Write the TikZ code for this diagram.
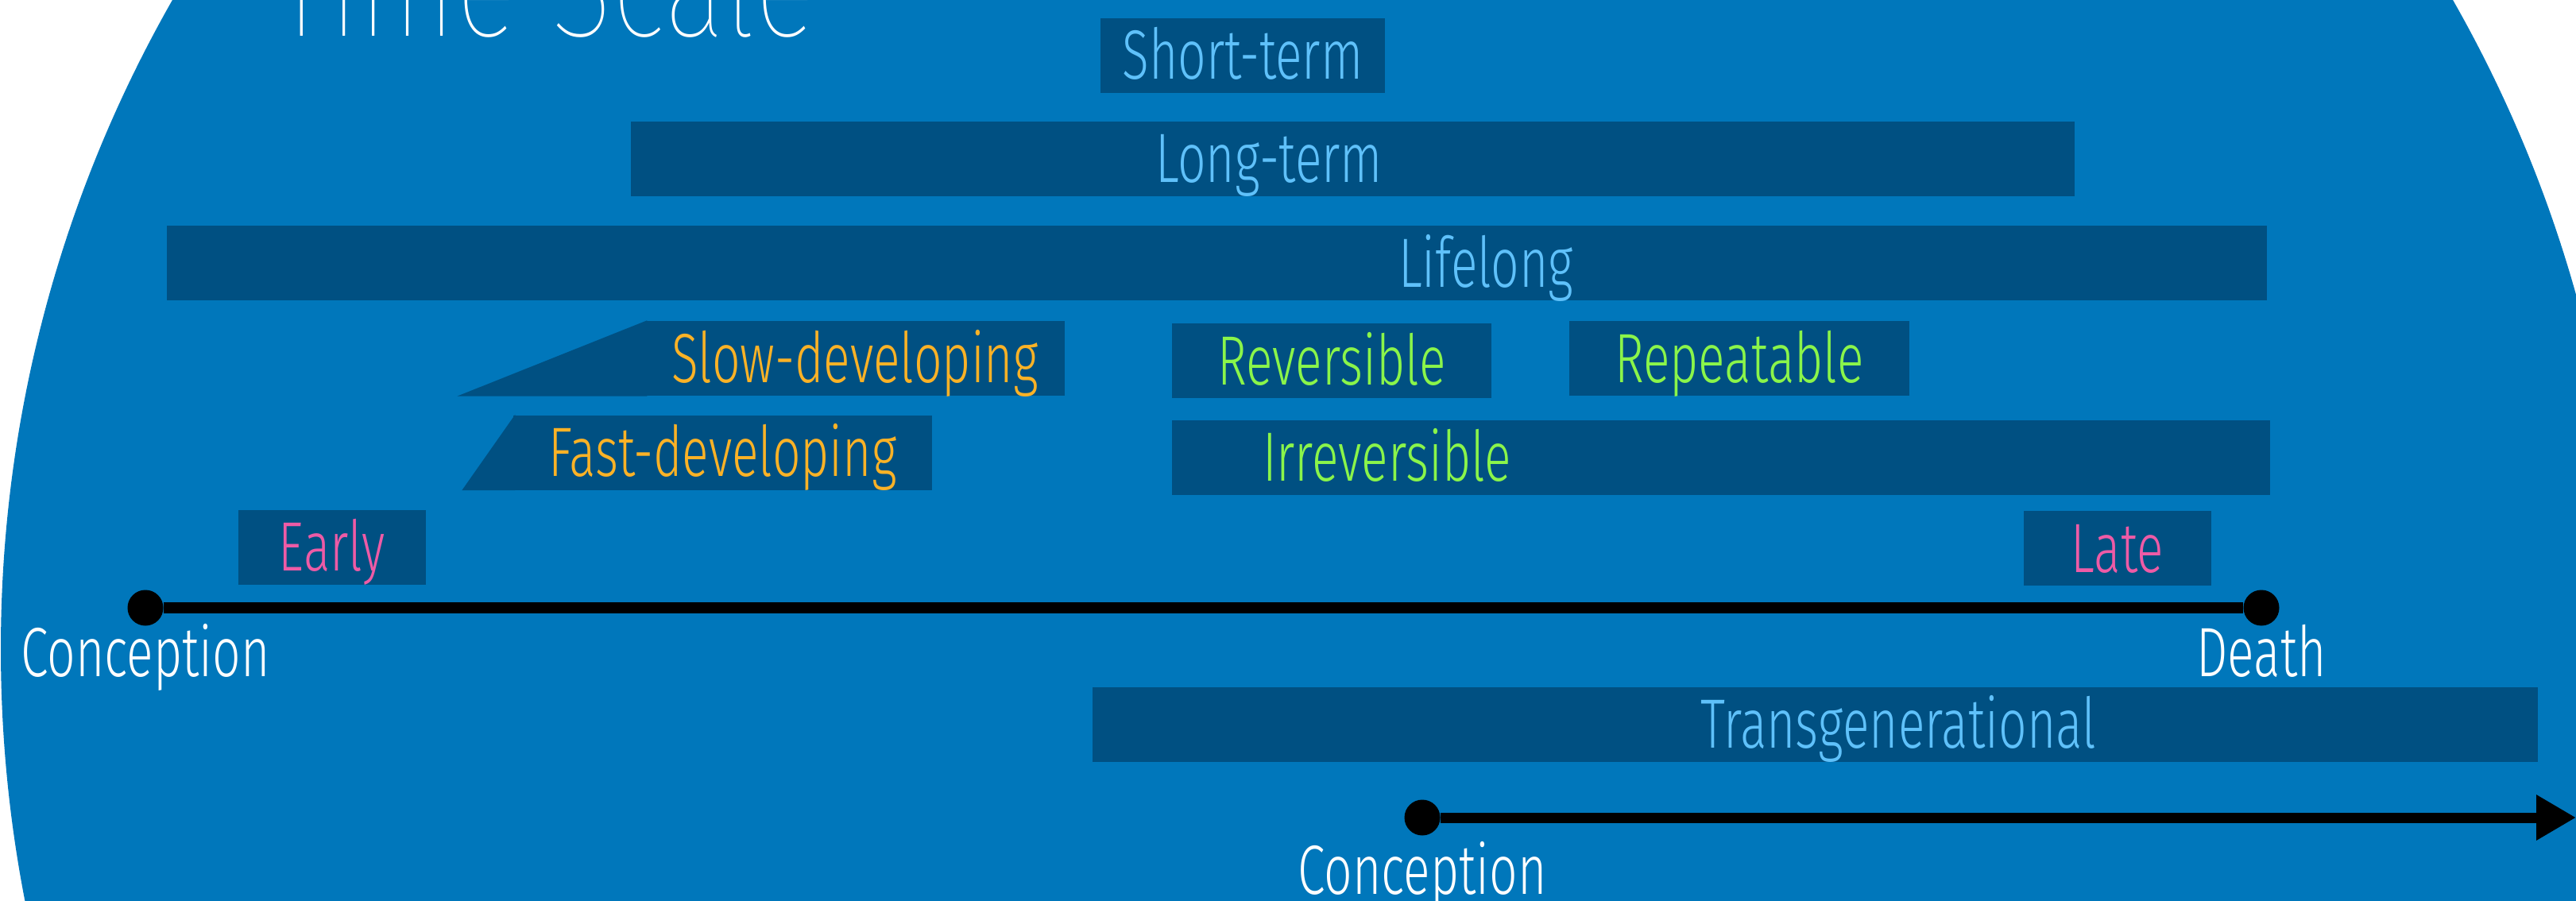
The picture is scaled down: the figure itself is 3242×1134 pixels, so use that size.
\documentclass[tikz,border=0pt]{standalone}
\usepackage{fontspec}
\setmainfont{Fira Sans}[UprightFont=* Light, FakeStretch=0.71]
\newfontfamily\titlefont{Fira Sans}[UprightFont=* Thin, FakeStretch=0.79]
\usetikzlibrary{positioning,arrows.meta}
\definecolor{sea}{RGB}{0,119,187}
\definecolor{deep}{RGB}{0,80,130}
\definecolor{sky}{RGB}{95,193,250}
\definecolor{amber}{RGB}{251,178,38}
\definecolor{lime}{RGB}{138,245,74}
\definecolor{rose}{RGB}{238,91,166}

\begin{document}
\begin{tikzpicture}[x=0.1mm, y=-0.1mm,
    bar/.style={fill=deep, inner sep=0pt, minimum height=9.4mm,
      text height=6mm, text depth=0pt, font=\fontsize{25}{29}\selectfont},
    dot/.style={circle, fill=black, inner sep=0pt, minimum size=4.5mm},
    lbl/.style={text=white, inner sep=0pt, text height=6mm, text depth=0pt,
      font=\fontsize{25}{29}\selectfont}
    ]

    % Background
    \useasboundingbox (0,0) rectangle (3242,1134);
    \clip (0,0) rectangle (3242,1134);
    \fill[white] (0,0) rectangle (3242,1134);
    \fill[sea] (1652,817) circle [radius=165.1mm];

    % Title
    \node[anchor=base west, inner sep=0pt, text=white,
      font=\titlefont\fontsize{52}{60}\selectfont] (title) at (345,46) {Time Scale};

    % Define bars
    \node[bar, text width=35.8mm, align=center, text=sky] (short) at (1564,70) {Short-term};
    \node[bar, text width=181.7mm, align=left, text=sky] (long) at (1702.5,200) {\hspace*{66mm}Long-term};
    \node[bar, text width=264.3mm, align=left, text=sky] (life) at (1531.5,331.5) {\hspace*{155mm}Lifelong};
    \node[bar, text width=52.8mm, align=center, text=amber] (slow) at (1076,451) {Slow-developing};
    \node[bar, text width=52.7mm, align=center, text=amber] (fast) at (909.5,569.5) {Fast-developing};
    \node[bar, text width=40.2mm, align=center, text=lime] (rev) at (1676,454.5) {Reversible};
    \node[bar, text width=42.8mm, align=center, text=lime] (rep) at (2189,451.5) {Repeatable};
    \node[bar, text width=138.2mm, align=left, text=lime] (irrev) at (2166,575.5) {\hspace*{11.4mm}Irreversible};
    \node[bar, text width=23.6mm, align=center, text=rose] (early) at (418,688.5) {Early};
    \node[bar, text width=23.6mm, align=center, text=rose] (late) at (2665,690) {Late};
    \node[bar, text width=181.9mm, align=left, text=sky] (trans) at (2284.5,911.5) {\hspace*{76.5mm}Transgenerational};

    % Slanted ends
    \fill[deep] ([xshift=0.3mm]slow.north west) -- ([xshift=0.3mm]slow.south west) -- ++(-239,0) -- cycle;
    \fill[deep] ([xshift=0.3mm]fast.north west) -- ([xshift=0.3mm]fast.south west) -- ++(-67,0) -- cycle;

    % Lifetime
    \node[dot] (birth) at (183,765) {};
    \node[dot] (death) at (2846,765) {};
    \node[lbl, below=0.3mm of birth] (birthlbl) {Conception};
    \node[lbl, below=0.3mm of death] (deathlbl) {Death};
    \draw[line width=1.4mm] (birth) -- (death);

    % Next generation
    \node[dot] (next) at (1790,1029) {};
    \coordinate (future) at (3242,1029);
    \node[lbl, below=1.3mm of next] (nextlbl) {Conception};
    \draw[line width=1.3mm, -{Triangle[length=5mm, width=5.4mm]}] (next) -- (future);

\end{tikzpicture}
\end{document}
